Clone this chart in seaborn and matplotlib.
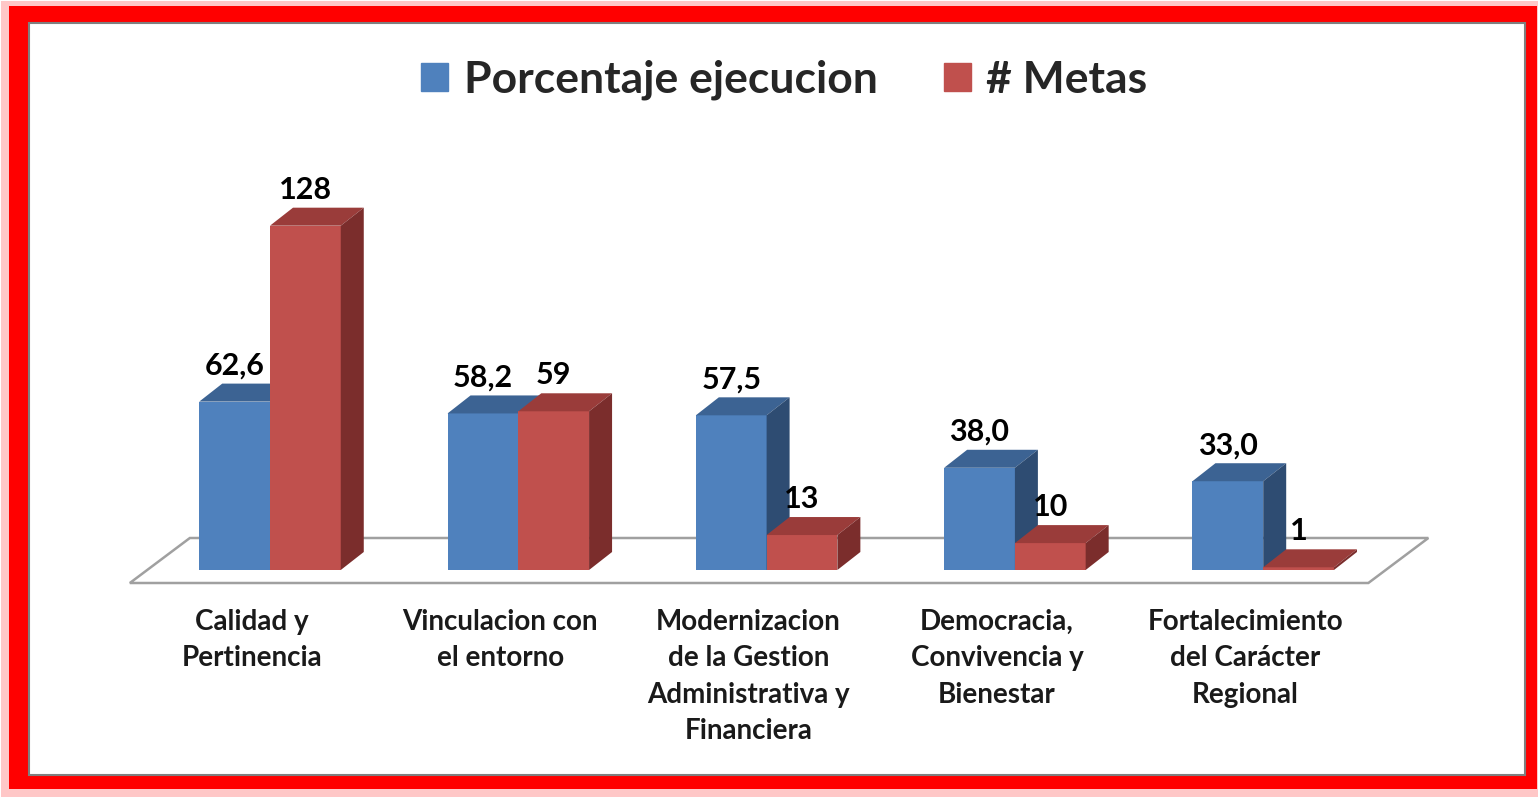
import pandas as pd
import matplotlib
matplotlib.use("Agg")
import matplotlib.pyplot as plt
import seaborn as sns
from matplotlib.patches import Polygon, Rectangle, Patch

# Data
categorias = ["Calidad y\nPertinencia",
              "Vinculacion con\nel entorno",
              "Modernizacion\nde la Gestion\nAdministrativa y\nFinanciera",
              "Democracia,\nConvivencia y\nBienestar",
              "Fortalecimiento\ndel Carácter\nRegional"]
porcentaje = [62.6, 58.2, 57.5, 38.0, 33.0]
metas = [128, 59, 13, 10, 1]
series = ["Porcentaje ejecucion", "# Metas"]

df = pd.DataFrame({
    "Eje": categorias * 2,
    "Serie": [series[0]] * len(categorias) + [series[1]] * len(categorias),
    "Valor": porcentaje + metas,
})

azul, rojo = "#4F81BD", "#C0504D"
tops = ["#3C6393", "#9A3C3A"]
sides = ["#2E4C72", "#7B2D2C"]

sns.set_theme(style="white")
plt.rcParams["font.family"] = ["Lato", "DejaVu Sans"]

W, H = 1538, 797
fig = plt.figure(figsize=(W / 100, H / 100), dpi=100)
fig.patch.set_facecolor("white")

# red glowing frame, drawn behind everything
fig.add_artist(Rectangle((1 / W, 0), (W - 1) / W, (H - 1) / H, transform=fig.transFigure,
                         facecolor="#FF6060", edgecolor="none", alpha=0.35, zorder=-5))
fig.add_artist(Rectangle((9 / W, 1 - 789 / H), (1537 - 9) / W, (789 - 6) / H,
                         transform=fig.transFigure, facecolor="#FF0000",
                         edgecolor="none", zorder=-4))
fig.add_artist(Rectangle((29 / W, 1 - 775 / H), (1525 - 29) / W, (775 - 23) / H,
                         transform=fig.transFigure, facecolor="white", edgecolor="#7F7F7F",
                         lw=1.5, zorder=-3))

# axes placed so that the bars land where they are in the picture
ax = fig.add_axes([145.85 / W, 1 - 570 / H, 1241.5 / W, (570 - 193.4) / H])
sns.barplot(data=df, x="Eje", y="Valor", hue="Serie", palette=[azul, rojo],
            width=0.57, saturation=1, errorbar=None, legend=False,
            linewidth=0, ax=ax)
ax.set_xlim(-0.5, 4.5)
ax.set_ylim(0, 140)

# pixel -> data conversion for the fake 3d depth
ppx = 1241.5 / 5
ppy = (570 - 193.4) / 140
dx, dy = 23 / ppx, 18 / ppy

# floor
fl = -0.5 - 16 / ppx
fr = 4.5 - 19 / ppx
fy = -13 / ppy
bx, by = 60 / ppx, 45 / ppy
ax.add_patch(Polygon([(fl, fy), (fr, fy), (fr + bx, fy + by), (fl + bx, fy + by)],
                     closed=True, facecolor="white", edgecolor="#A0A0A0",
                     lw=1.8, zorder=1, clip_on=False))

# top and side faces of the bars, plus value labels
for i, cont in enumerate(ax.containers):
    for j, bar in enumerate(cont):
        bar.set_zorder(2 + i)
        x0, w, h = bar.get_x(), bar.get_width(), bar.get_height()
        ax.add_patch(Polygon([(x0, h), (x0 + w, h), (x0 + w + dx, h + dy), (x0 + dx, h + dy)],
                             closed=True, facecolor=tops[i], lw=0, zorder=2 + i, clip_on=False))
        ax.add_patch(Polygon([(x0 + w, 0), (x0 + w + dx, dy), (x0 + w + dx, h + dy), (x0 + w, h)],
                             closed=True, facecolor=sides[i], lw=0, zorder=2 + i, clip_on=False))
        val = porcentaje[j] if i == 0 else metas[j]
        txt = f"{val:.1f}".replace(".", ",") if i == 0 else f"{val}"
        ax.text(x0 + w / 2, h + dy + 1.5, txt, ha="center", va="bottom",
                fontsize=22, fontweight="bold", color="black", zorder=5)

# category labels sit a little left of the group centre, as in the 3d view
ax.set_xticks([k - 18 / ppx for k in range(len(categorias))])
ax.set_xticklabels(categorias, fontsize=20, fontweight="bold", linespacing=1.5,
                   color="#1A1A1A")
ax.tick_params(axis="x", length=0, pad=28)
ax.set_yticks([])
ax.set_xlabel("")
ax.set_ylabel("")
sns.despine(ax=ax, left=True, bottom=True)
ax.patch.set_visible(False)

# legend
fig.legend(handles=[Patch(color=azul, label=series[0]), Patch(color=rojo, label=series[1])],
           loc="center", bbox_to_anchor=(0.51, 1 - 80 / H), ncol=2, frameon=False,
           prop={"weight": "bold", "size": 32}, handlelength=0.6, handleheight=0.6,
           handletextpad=0.35, columnspacing=1.5)

fig.savefig("out.png", dpi=100)
